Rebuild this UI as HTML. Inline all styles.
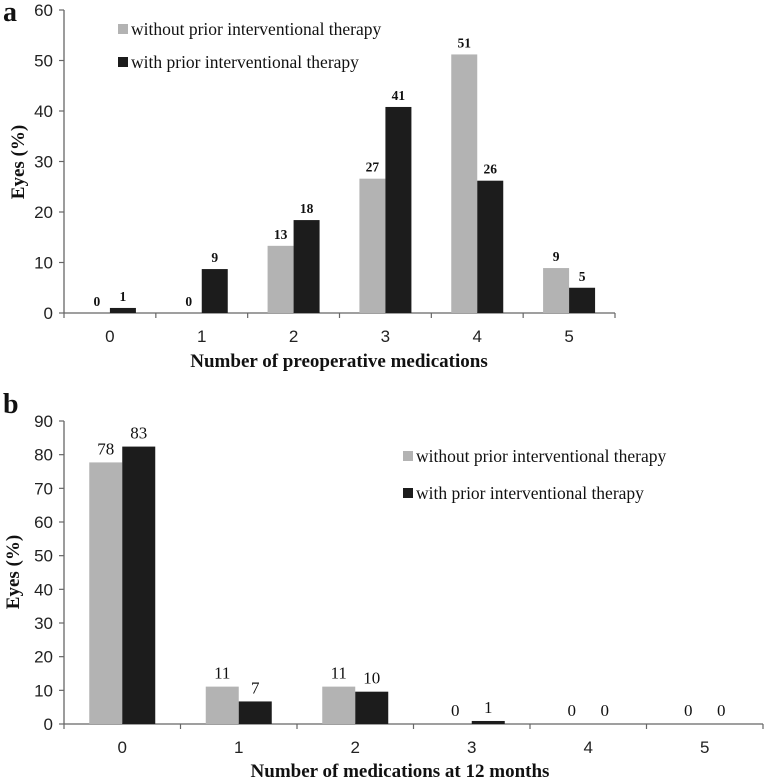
<!DOCTYPE html>
<html><head><meta charset="utf-8"><style>
html,body{margin:0;padding:0;background:#fff;}
svg{display:block;}
.tick{font-family:"Liberation Sans",sans-serif;font-size:17px;fill:#222;}
.ser{font-family:"Liberation Serif",serif;fill:#111;}
</style></head><body>
<svg id="chart" width="768" height="779" viewBox="0 0 768 779" xmlns="http://www.w3.org/2000/svg"></svg>
<script>
const categoriesA = ["0","1","2","3","4","5"];
const withoutA = [0, 0, 13.3, 26.6, 51.2, 8.9];
const withA = [1.0, 8.7, 18.4, 40.8, 26.2, 5.0];
const withoutLabelsA = ["0","0","13","27","51","9"];
const withLabelsA = ["1","9","18","41","26","5"];
const yTicksA = [0,10,20,30,40,50,60];

const categoriesB = ["0","1","2","3","4","5"];
const withoutB = [77.7, 11.1, 11.1, 0, 0, 0];
const withB = [82.4, 6.7, 9.6, 0.9, 0, 0];
const withoutLabelsB = ["78","11","11","0","0","0"];
const withLabelsB = ["83","7","10","1","0","0"];
const yTicksB = [0,10,20,30,40,50,60,70,80,90];

const NS="http://www.w3.org/2000/svg";
const svg=document.getElementById('chart');
function mk(tag,attrs,parent,text){const e=document.createElementNS(NS,tag);for(const k in attrs)e.setAttribute(k,attrs[k]);if(text!==undefined)e.textContent=text;(parent||svg).appendChild(e);return e;}

function panel(cfg){
  const g=mk('g',{});
  
  
  const y=v=>cfg.y0-(v-0)/cfg.ymax*(cfg.y0-cfg.yTop);
  const cw=(cfg.x1-cfg.x0)/cfg.cats.length;
  const xc=i=>cfg.x0+(i+0.5)*cw;
  const ya=mk('line',{x1:cfg.x0,y1:cfg.yTop,x2:cfg.x0,y2:cfg.y0,stroke:'#666','stroke-width':1.3},g);
  
  
  const xa=mk('line',{x1:cfg.x0,y1:cfg.y0,x2:cfg.x1,y2:cfg.y0,stroke:'#666','stroke-width':1.3},g);
  
  
  cfg.yTicks.forEach(v=>{
    mk('line',{x1:cfg.x0-5,y1:y(v),x2:cfg.x0,y2:y(v),stroke:'#666','stroke-width':1.2},g);
    const t=mk('text',{x:cfg.x0-11,y:y(v)+6,'text-anchor':'end',class:'tick'},g,String(v));
    
    
  });
  for(let i=0;i<=cfg.cats.length;i++){
    mk('line',{x1:cfg.x0+i*cw,y1:cfg.y0,x2:cfg.x0+i*cw,y2:cfg.y0+5,stroke:'#666','stroke-width':1.2},g);
  }
  cfg.cats.forEach((c,i)=>{
    const t=mk('text',{x:xc(i),y:cfg.y0+cfg.xlabOff,'text-anchor':'middle',class:'tick'},g,c);
    
    
    const b1=mk('rect',{x:xc(i)-cfg.bw,y:y(cfg.s1[i]),width:cfg.bw,height:cfg.y0-y(cfg.s1[i]),fill:'#b3b3b3'},g);
    
    
    const b2=mk('rect',{x:xc(i),y:y(cfg.s2[i]),width:cfg.bw,height:cfg.y0-y(cfg.s2[i]),fill:'#1c1c1c'},g);
    
    
    const l1=mk('text',{x:xc(i)-cfg.bw/2,y:y(cfg.s1[i])-cfg.lblOff,'text-anchor':'middle',class:'ser','font-size':cfg.lblSize,'font-weight':cfg.lblWeight},g,cfg.l1[i]);
    
    
    const l2=mk('text',{x:xc(i)+cfg.bw/2,y:y(cfg.s2[i])-cfg.lblOff,'text-anchor':'middle',class:'ser','font-size':cfg.lblSize,'font-weight':cfg.lblWeight},g,cfg.l2[i]);
    
    
  });
  const yt=mk('text',{x:0,y:0,transform:`translate(${cfg.ytX},${cfg.ytY}) rotate(-90)`,'text-anchor':'middle',class:'ser','font-size':19,'font-weight':'bold'},g,'Eyes  (%)');
  
  
  const xt=mk('text',{x:cfg.xtX,y:cfg.xtY,'text-anchor':'middle',class:'ser','font-size':19,'font-weight':'bold'},g,cfg.xTitle);
  
  
  const pl=mk('text',{x:3,y:cfg.letterY,class:'ser','font-size':28,'font-weight':'bold'},g,cfg.letter);
  
  
  [['without prior interventional therapy','#b3b3b3','legend-entry-without'],['with prior interventional therapy','#1c1c1c','legend-entry-with']].forEach((e,k)=>{
    const lg=mk('g',{},g);
    
    
    const by=cfg.legY+k*cfg.legGap;
    mk('rect',{x:cfg.legX,y:by-11,width:10,height:10,fill:e[1]},lg);
    mk('text',{x:cfg.legX+13,y:by,class:'ser','font-size':cfg.legFs},lg,e[0]);
  });
}

panel({name:'chart-a',cats:categoriesA,s1:withoutA,s2:withA,l1:withoutLabelsA,l2:withLabelsA,yTicks:yTicksA,
  x0:64,x1:615,y0:313,yTop:10,ymax:60,bw:26,xlabOff:29,lblOff:7,lblSize:13.5,lblWeight:'bold',
  ytX:24,ytY:162,xtX:339,xtY:367,xTitle:'Number  of preoperative  medications',letter:'a',letterY:21,
  legX:118,legY:35,legGap:33,legFs:17.5});
panel({name:'chart-b',cats:categoriesB,s1:withoutB,s2:withB,l1:withoutLabelsB,l2:withLabelsB,yTicks:yTicksB,
  x0:64,x1:763,y0:724,yTop:421,ymax:90,bw:33,xlabOff:29,lblOff:8,lblSize:17,lblWeight:'normal',
  ytX:19,ytY:572,xtX:400,xtY:777,xTitle:'Number  of medications at 12 months',letter:'b',letterY:413,
  legX:403,legY:462,legGap:37,legFs:17.5});
</script>
</body></html>
